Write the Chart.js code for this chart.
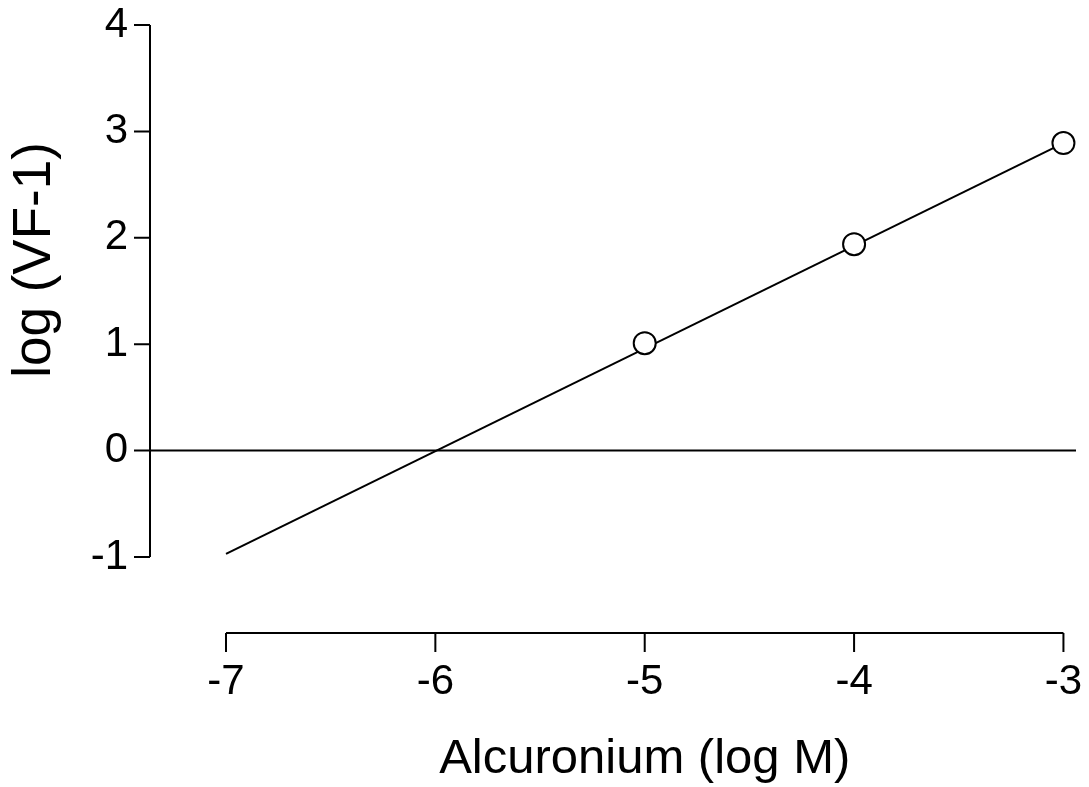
<!DOCTYPE html>
<html>
<head>
<meta charset="utf-8">
<script src="https://cdn.jsdelivr.net/npm/chart.js@4/dist/chart.umd.min.js"></script>
<style>
  html, body { margin: 0; padding: 0; background: #fff; }
  #wrap { width: 1089px; height: 787px; }
</style>
</head>
<body>
<div id="wrap"><canvas id="schild"></canvas></div>
<script>
// Measured points: log concentration vs log(dose ratio - 1)
const concLog = [-5, -4, -3];
const logDr = [1.01, 1.94, 2.89];

// Regression line end points
const fitX = [-7, -3];
const fitY = [-0.97, 2.89];

// Axis ticks
const xTicks = [-7, -6, -5, -4, -3];
const yTicks = [-1, 0, 1, 2, 3, 4];

const xTitle = 'Alcuronium (log M)';
const yTitle = 'log (VF-1)';

const FONT = '"Liberation Sans", Arial, Helvetica, sans-serif';

// Scale limits chosen so the axes sit apart from each other
const xMin = -7.363, xMax = -2.94;
const yMin = -1.714, yMax = 4;

// Detached axis lines with outward ticks, plus the axis titles
const axesPlugin = {
    id: 'axes',
    afterDraw(chart) {
        const ctx = chart.ctx;
        const xs = chart.scales.x;
        const ys = chart.scales.y;
        const area = chart.chartArea;
        ctx.save();
        ctx.strokeStyle = '#000';
        ctx.lineWidth = 2;

        // y axis
        const yx = area.left;
        ctx.beginPath();
        ctx.moveTo(yx, ys.getPixelForValue(yTicks[0]));
        ctx.lineTo(yx, ys.getPixelForValue(yTicks[yTicks.length - 1]));
        yTicks.forEach(v => {
            const p = ys.getPixelForValue(v);
            ctx.moveTo(yx, p);
            ctx.lineTo(yx - 16, p);
        });
        ctx.stroke();

        // x axis
        const xy = area.bottom;
        ctx.beginPath();
        ctx.moveTo(xs.getPixelForValue(xTicks[0]), xy);
        ctx.lineTo(xs.getPixelForValue(xTicks[xTicks.length - 1]), xy);
        xTicks.forEach(v => {
            const p = xs.getPixelForValue(v);
            ctx.moveTo(p, xy);
            ctx.lineTo(p, xy + 19);
        });
        ctx.stroke();

        // titles
        ctx.fillStyle = '#000';
        ctx.font = '49px ' + FONT;
        ctx.textAlign = 'center';
        ctx.textBaseline = 'alphabetic';
        const xMid = (xs.getPixelForValue(xTicks[0]) + xs.getPixelForValue(xTicks[xTicks.length - 1])) / 2;
        ctx.fillText(xTitle, xMid, 773);

        ctx.translate(50, 260);
        ctx.rotate(-Math.PI / 2);
        ctx.font = '53px ' + FONT;
        ctx.fillText(yTitle, 0, 0);
        ctx.restore();
    }
};

const ctx = document.getElementById('schild').getContext('2d');
const schildChart = new Chart(ctx, {
    type: 'scatter',
    data: {
        datasets: [
            {
                // zero reference line across the plot
                type: 'line',
                data: [{ x: xMin, y: 0 }, { x: xMax, y: 0 }],
                borderColor: '#000',
                borderWidth: 2,
                pointRadius: 0,
                order: 3
            },
            {
                type: 'line',
                data: fitX.map((x, i) => ({ x, y: fitY[i] })),
                borderColor: '#000',
                borderWidth: 2,
                pointRadius: 0,
                order: 2
            },
            {
                data: concLog.map((x, i) => ({ x, y: logDr[i] })),
                backgroundColor: '#fff',
                borderColor: '#000',
                borderWidth: 2,
                pointRadius: 11,
                pointHoverRadius: 11,
                order: 1
            }
        ]
    },
    options: {
        responsive: true,
        maintainAspectRatio: false,
        animation: false,
        events: [],
        layout: { padding: { top: 25, right: 10, left: 0, bottom: 0 } },
        plugins: {
            legend: { display: false },
            tooltip: { enabled: false }
        },
        scales: {
            x: {
                type: 'linear',
                min: xMin,
                max: xMax,
                grid: { display: false, drawTicks: false },
                border: { display: false },
                afterBuildTicks: s => { s.ticks = xTicks.map(v => ({ value: v })); },
                afterFit: s => {
                    s.height = 154;
                    s.paddingLeft = 0;
                    s.paddingRight = 0;
                },
                ticks: {
                    padding: 24,
                    color: '#000',
                    maxRotation: 0,
                    autoSkip: false,
                    font: { family: FONT, size: 42 }
                }
            },
            y: {
                type: 'linear',
                min: yMin,
                max: yMax,
                grid: { display: false, drawTicks: false },
                border: { display: false },
                afterBuildTicks: s => { s.ticks = yTicks.map(v => ({ value: v })); },
                afterFit: s => {
                    s.width = 150;
                    s.paddingTop = 0;
                    s.paddingBottom = 0;
                },
                ticks: {
                    padding: 22,
                    color: '#000',
                    autoSkip: false,
                    font: { family: FONT, size: 42 }
                }
            }
        }
    },
    plugins: [axesPlugin]
});
</script>
</body>
</html>
